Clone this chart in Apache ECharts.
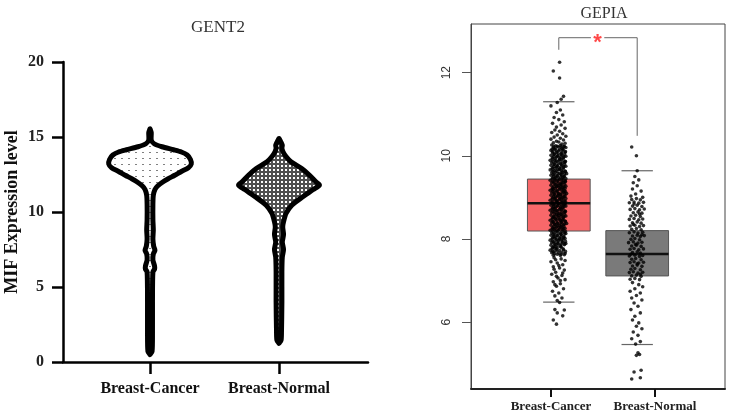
<!DOCTYPE html>
<html>
<head>
<meta charset="utf-8">
<script src="https://cdn.jsdelivr.net/npm/echarts@6/dist/echarts.min.js"></script>
<style>html,body{margin:0;padding:0;background:#fff;}#chart{width:731px;height:416px;}</style>
</head>
<body>
<div id="chart"></div>
<script>
// ---------- DATA ----------
const categories = ['Breast-Cancer', 'Breast-Normal'];
const leftTitle = 'GENT2';
const rightTitle = 'GEPIA';
const leftYName = 'MIF Expression level';
const rightYTicks = [6, 8, 10, 12];

// violin outlines: [expression value, relative density (half width)]
const cancerDensity = [
  [15.55,0],[15.3,0.03],[14.8,0.03],[14.55,0.1],[14.35,0.29],[14.15,0.57],[14.0,0.76],[13.8,0.9],
  [13.5,0.98],[13.2,1.0],[12.95,0.93],[12.7,0.76],[12.45,0.6],[12.2,0.43],[12.0,0.31],[11.75,0.19],
  [11.5,0.12],[11.1,0.08],[10.5,0.07],[9.5,0.07],[8.8,0.08],[8.2,0.07],[7.7,0.09],[7.45,0.12],
  [7.2,0.08],[6.8,0.07],[6.4,0.11],[6.2,0.11],[6.0,0.07],[4.0,0.06],[2.0,0.06],[0.7,0.05],[0.5,0]
];
const normalDensity = [
  [14.9,0],[14.7,0.04],[14.45,0.08],[14.25,0.07],[14.0,0.1],[13.7,0.17],[13.35,0.29],[12.9,0.55],
  [12.45,0.74],[12.0,0.9],[11.8,0.98],[11.5,0.83],[11.0,0.57],[10.45,0.31],[9.9,0.17],[9.35,0.11],
  [9.0,0.09],[8.5,0.11],[8.0,0.08],[7.5,0.11],[7.0,0.08],[6.0,0.07],[4.0,0.07],[2.0,0.06],[1.45,0.05],[1.25,0]
];

// box statistics: [position, lower whisker, Q1, median, Q3, upper whisker]
const cancerBox = [1, 6.48, 8.19, 8.86, 9.44, 11.30];
const normalBox = [2, 5.46, 7.11, 7.64, 8.20, 9.64];

// jittered samples: [position, expression]
const cancerPoints = [
[1.01,12.25],[0.93,12.04],[1.01,11.87],[1.06,11.43],[1.03,11.36],[0.98,11.28],[0.9,11.2],[1.02,11.1],[0.97,11.04],[1.05,10.98],[0.94,10.92],[1.0,10.87],[1.07,10.82],[0.92,10.78],[1.03,10.74],[0.97,10.69],[1.08,10.66],[0.95,10.62],[1.01,10.59],[0.91,10.56],[1.05,10.53],[0.98,10.5],[1.09,10.47],[0.94,10.45],[1.02,10.42],[0.9,10.4],[1.06,10.38],[0.97,10.35],[1.0,10.33],[0.93,10.31],[1.08,10.3],[1.04,10.28],
[0.91,10.26],[0.96,10.24],[1.02,10.25],[1.07,10.23],
[0.93,10.19],[0.99,10.21],[1.04,10.18],[1.09,10.2],
[0.9,10.13],[0.95,10.15],[1.0,10.12],[1.05,10.14],
[0.92,10.07],[0.97,10.08],[1.03,10.06],[1.08,10.09],
[0.9,10.01],[0.94,10.03],[0.99,10.0],[1.04,10.02],[1.09,9.99],
[0.92,9.95],[0.97,9.97],[1.01,9.94],[1.06,9.96],
[0.89,9.89],[0.95,9.9],[1.0,9.88],[1.03,9.91],[1.08,9.87],
[0.91,9.83],[0.96,9.85],[1.02,9.82],[1.07,9.84],
[0.9,9.77],[0.94,9.79],[0.98,9.76],[1.04,9.78],[1.09,9.75],
[0.92,9.71],[0.97,9.73],[1.01,9.7],[1.06,9.72],
[0.89,9.66],[0.94,9.64],[0.99,9.67],[1.03,9.65],[1.08,9.63],
[0.91,9.59],[0.96,9.61],[1.01,9.58],[1.05,9.6],[1.1,9.57],
[0.9,9.53],[0.93,9.55],[0.98,9.52],[1.03,9.54],[1.07,9.51],
[0.92,9.47],[0.96,9.49],[1.0,9.46],[1.05,9.48],[1.09,9.45],
[0.89,9.41],[0.95,9.43],[0.99,9.4],[1.04,9.42],[1.08,9.39],
[0.91,9.35],[0.94,9.37],[1.02,9.34],[1.06,9.36],
[0.9,9.29],[0.96,9.31],[1.0,9.28],[1.03,9.3],[1.09,9.27],
[0.92,9.23],[0.97,9.25],[1.01,9.22],[1.05,9.24],[1.08,9.21],
[0.89,9.17],[0.93,9.19],[0.98,9.16],[1.04,9.18],[1.07,9.15],
[0.91,9.11],[0.95,9.13],[1.0,9.1],[1.06,9.12],[1.1,9.09],
[0.9,9.05],[0.94,9.07],[0.99,9.04],[1.02,9.06],[1.08,9.03],
[0.92,8.99],[0.96,9.01],[1.01,8.98],[1.05,9.0],[1.09,8.97],
[0.89,8.93],[0.95,8.95],[0.98,8.92],[1.03,8.94],[1.07,8.91],
[0.91,8.87],[0.97,8.89],[1.0,8.86],[1.04,8.88],[1.08,8.85],
[0.9,8.81],[0.93,8.83],[0.99,8.8],[1.06,8.82],[1.09,8.79],
[0.92,8.75],[0.96,8.77],[1.02,8.74],[1.05,8.76],
[0.89,8.69],[0.94,8.71],[0.98,8.68],[1.03,8.7],[1.08,8.67],
[0.91,8.63],[0.95,8.65],[1.01,8.62],[1.07,8.64],
[0.9,8.57],[0.97,8.59],[1.0,8.56],[1.04,8.58],[1.09,8.55],
[0.92,8.51],[0.94,8.53],[0.99,8.5],[1.06,8.52],
[0.89,8.45],[0.96,8.47],[1.02,8.44],[1.05,8.46],[1.08,8.43],
[0.91,8.39],[0.93,8.41],[0.98,8.38],[1.03,8.4],[1.1,8.37],
[0.9,8.33],[0.95,8.35],[1.01,8.32],[1.06,8.34],
[0.92,8.27],[0.97,8.29],[1.0,8.26],[1.04,8.28],[1.08,8.25],
[0.89,8.21],[0.94,8.23],[0.99,8.2],[1.05,8.22],
[0.91,8.15],[0.96,8.17],[1.02,8.14],[1.07,8.16],[1.09,8.13],
[0.9,8.09],[0.93,8.11],[0.98,8.08],[1.03,8.1],
[0.92,8.03],[0.95,8.05],[1.01,8.02],[1.06,8.04],[1.08,8.01],
[0.89,7.97],[0.97,7.99],[1.0,7.96],[1.04,7.98],
[0.91,7.91],[0.94,7.93],[0.99,7.9],[1.05,7.92],[1.09,7.89],
[0.9,7.85],[0.96,7.87],[1.02,7.84],[1.07,7.86],
[0.92,7.79],[0.95,7.81],[0.98,7.78],[1.03,7.8],
[0.89,7.73],[0.97,7.75],[1.01,7.72],[1.06,7.74],
[0.91,7.67],[0.94,7.69],[1.0,7.66],[1.04,7.68],[1.08,7.65],
[0.93,7.61],[0.98,7.63],[1.02,7.6],[1.07,7.62],
[0.935,10.22],[0.98,10.23],[1.025,10.21],[1.065,10.22],
[0.915,10.16],[0.955,10.17],[1.01,10.15],[1.055,10.16],
[0.925,10.1],[0.975,10.11],[1.04,10.09],[1.085,10.1],
[0.945,10.04],[0.99,10.05],[1.03,10.03],[1.075,10.04],
[0.935,9.98],[0.98,9.99],[1.025,9.97],[1.065,9.98],
[0.915,9.92],[0.955,9.93],[1.01,9.91],[1.055,9.92],
[0.925,9.86],[0.975,9.87],[1.04,9.85],[1.085,9.86],
[0.945,9.8],[0.99,9.81],[1.03,9.79],[1.075,9.8],
[0.935,9.74],[0.98,9.75],[1.025,9.73],[1.065,9.74],
[0.915,9.68],[0.955,9.69],[1.01,9.67],[1.055,9.68],
[0.925,9.62],[0.975,9.63],[1.04,9.61],[1.085,9.62],
[0.945,9.56],[0.99,9.57],[1.03,9.55],[1.075,9.56],
[0.935,9.5],[0.98,9.51],[1.025,9.49],[1.065,9.5],
[0.915,9.44],[0.955,9.45],[1.01,9.43],[1.055,9.44],
[0.925,9.38],[0.975,9.39],[1.04,9.37],[1.085,9.38],
[0.945,9.32],[0.99,9.33],[1.03,9.31],[1.075,9.32],
[0.935,9.26],[0.98,9.27],[1.025,9.25],[1.065,9.26],
[0.915,9.2],[0.955,9.21],[1.01,9.19],[1.055,9.2],
[0.925,9.14],[0.975,9.15],[1.04,9.13],[1.085,9.14],
[0.945,9.08],[0.99,9.09],[1.03,9.07],[1.075,9.08],
[0.935,9.02],[0.98,9.03],[1.025,9.01],[1.065,9.02],
[0.915,8.96],[0.955,8.97],[1.01,8.95],[1.055,8.96],
[0.925,8.9],[0.975,8.91],[1.04,8.89],[1.085,8.9],
[0.945,8.84],[0.99,8.85],[1.03,8.83],[1.075,8.84],
[0.935,8.78],[0.98,8.79],[1.025,8.77],[1.065,8.78],
[0.915,8.72],[0.955,8.73],[1.01,8.71],[1.055,8.72],
[0.925,8.66],[0.975,8.67],[1.04,8.65],[1.085,8.66],
[0.945,8.6],[0.99,8.61],[1.03,8.59],[1.075,8.6],
[0.935,8.54],[0.98,8.55],[1.025,8.53],[1.065,8.54],
[0.915,8.48],[0.955,8.49],[1.01,8.47],[1.055,8.48],
[0.925,8.42],[0.975,8.43],[1.04,8.41],[1.085,8.42],
[0.945,8.36],[0.99,8.37],[1.03,8.35],[1.075,8.36],
[0.935,8.3],[0.98,8.31],[1.025,8.29],[1.065,8.3],
[0.915,8.24],[0.955,8.25],[1.01,8.23],[1.055,8.24],
[0.925,8.18],[0.975,8.19],[1.04,8.17],[1.085,8.18],
[0.945,8.12],[0.99,8.13],[1.03,8.11],[1.075,8.12],
[0.935,8.06],[0.98,8.07],[1.025,8.05],[1.065,8.06],
[0.915,8.0],[0.955,8.01],[1.01,7.99],[1.055,8.0],
[0.925,7.94],[0.975,7.95],[1.04,7.93],[1.085,7.94],
[0.945,7.88],[0.99,7.89],[1.03,7.87],[1.075,7.88],
[0.935,7.82],[0.98,7.83],[1.025,7.81],
[0.915,7.76],[0.955,7.77],[1.055,7.76],
[0.925,7.7],[0.975,7.71],[1.085,7.7],
[0.945,7.64],[1.03,7.63],
[0.94,7.55],[1.03,7.52],[1.08,7.48],[0.9,7.45],[0.98,7.42],[1.05,7.38],[0.93,7.33],[1.01,7.3],[1.07,7.25],[0.96,7.2],[0.91,7.15],[1.04,7.12],[0.99,7.06],[1.08,7.02],[0.93,6.97],[1.02,6.92],[0.97,6.86],[1.06,6.8],[0.92,6.74],[1.0,6.7],[0.95,6.63],[1.04,6.58],[0.98,6.52],[1.01,6.47],
[0.96,7.5],[1.0,7.36],[0.94,7.27],[1.05,7.18],[0.97,7.1],[1.02,7.0],[0.95,6.9],
[0.95,6.3],[1.07,6.29],[0.98,6.22],[1.05,6.15],[0.93,6.05],[0.97,5.95]
];
const normalPoints = [
[1.93,10.21],[1.99,10.0],[2.0,9.64],[1.97,9.5],[2.02,9.42],[1.95,9.35],[2.0,9.28],[1.94,9.2],[2.05,9.15],[1.98,9.08],[1.92,9.03],[2.07,9.0],
[1.93,8.95],[1.99,8.97],[2.04,8.94],
[1.9,8.87],[1.96,8.89],[2.02,8.86],[2.08,8.88],
[1.94,8.79],[2.0,8.81],[2.06,8.78],
[1.91,8.71],[1.97,8.73],[2.03,8.7],[2.09,8.72],
[1.95,8.63],[2.01,8.65],[2.06,8.62],
[1.92,8.55],[1.98,8.57],[2.04,8.54],
[1.9,8.47],[1.96,8.49],[2.02,8.46],[2.07,8.48],
[1.94,8.39],[2.0,8.41],[2.05,8.38],
[1.91,8.31],[1.97,8.33],[2.03,8.3],[2.08,8.32],
[1.93,8.23],[1.99,8.25],[2.05,8.22],
[1.9,8.15],[1.96,8.17],[2.01,8.14],[2.07,8.16],
[1.94,8.07],[2.0,8.09],[2.04,8.06],[2.09,8.08],
[1.92,7.99],[1.97,8.01],[2.03,7.98],
[1.89,7.91],[1.95,7.93],[2.01,7.9],[2.06,7.92],
[1.93,7.83],[1.99,7.85],[2.05,7.82],
[1.91,7.75],[1.96,7.77],[2.02,7.74],[2.08,7.76],
[1.94,7.67],[2.0,7.69],[2.04,7.66],
[1.9,7.59],[1.97,7.61],[2.03,7.58],[2.07,7.6],
[1.93,7.51],[1.98,7.53],[2.05,7.5],
[1.91,7.43],[1.96,7.45],[2.02,7.42],[2.08,7.44],
[1.94,7.35],[2.0,7.37],[2.06,7.34],
[1.92,7.27],[1.97,7.29],[2.04,7.26],
[1.9,7.19],[1.95,7.21],[2.01,7.18],[2.07,7.2],
[1.93,7.11],[1.99,7.13],[2.05,7.1],
[1.91,7.03],[1.97,7.05],[2.03,7.02],
[1.96,8.84],[2.03,8.6],[1.95,8.35],[2.06,8.1],[1.98,7.87],[1.92,7.63],[2.0,7.4],[2.04,7.15],
[1.94,6.95],[2.02,6.9],[2.07,6.85],[1.97,6.8],[1.91,6.74],[2.04,6.7],[1.99,6.64],[1.93,6.58],[2.06,6.53],[1.96,6.46],[2.01,6.38],[1.92,6.3],[2.04,6.22],[1.97,6.14],[1.94,6.05],[2.02,5.98],[1.99,5.9],[2.06,5.84],[1.95,5.76],[2.01,5.68],[1.93,5.6],[2.04,5.53],[1.98,5.47],
[2.01,5.26],[1.99,5.2],[2.03,5.22],[2.05,4.84],[1.96,4.8],[1.93,4.63],[2.04,4.66]
];

// significance bracket: [position, expression]
const bracketLeft = [[1, 12.55], [1, 12.84], [1.41, 12.84]];
const bracketRight = [[1.58, 12.84], [2, 12.84], [2, 10.48]];
const starMark = [[1.495, 12.84]];
const starText = '*';

// ---------- STYLE HELPERS ----------
function makePattern(w, h, bg, draw) {
  const c = document.createElement('canvas');
  c.width = w; c.height = h;
  const g = c.getContext('2d');
  g.fillStyle = bg; g.fillRect(0, 0, w, h);
  draw(g);
  return { image: c, repeat: 'repeat' };
}
const cancerFill = makePattern(7, 6, '#ffffff', g => { g.fillStyle = '#808080'; g.fillRect(2, 2, 2, 1); });
const normalFill = makePattern(4, 4, '#505050', g => { g.fillStyle = '#ffffff'; g.fillRect(1, 1, 2, 2); });
const violinFills = [cancerFill, normalFill];
const violinProfiles = [cancerDensity, normalDensity];
const VIOLIN_SCALE = 0.32;
const BOX_HALF = 0.4;
const CAP_HALF = 0.2;

const serif = 'Liberation Serif';
const sans = 'Liberation Sans';

function violinItem(params, api) {
  const idx = api.value(0);
  const prof = violinProfiles[idx];
  const cx = api.coord([idx, 0])[0];
  const band = api.size([1, 0])[0];
  const k = band * VIOLIN_SCALE;
  const left = [], right = [];
  prof.forEach(p => {
    const y = api.coord([idx, p[0]])[1];
    left.push([cx - p[1] * k, y]);
    right.push([cx + p[1] * k, y]);
  });
  const pts = left.concat(right.reverse());
  return {
    type: 'polygon',
    shape: { points: pts, smooth: 0.25 },
    style: { fill: violinFills[idx], stroke: '#000', lineWidth: 5, lineJoin: 'round' }
  };
}

const boxFills = ['#f8686a', '#7a7a7a'];
function boxItem(params, api) {
  const x = api.value(0);
  const lo = api.value(1), q1 = api.value(2), med = api.value(3), q3 = api.value(4), hi = api.value(5);
  const tl = api.coord([x - BOX_HALF, q3]);
  const br = api.coord([x + BOX_HALF, q1]);
  const mL = api.coord([x - BOX_HALF, med]), mR = api.coord([x + BOX_HALF, med]);
  const hL = api.coord([x - CAP_HALF, hi]), hR = api.coord([x + CAP_HALF, hi]);
  const lL = api.coord([x - CAP_HALF, lo]), lR = api.coord([x + CAP_HALF, lo]);
  return {
    type: 'group',
    children: [
      { type: 'rect', shape: { x: tl[0], y: tl[1], width: br[0] - tl[0], height: br[1] - tl[1] },
        style: { fill: boxFills[params.dataIndex], stroke: '#555', lineWidth: 1 } },
      { type: 'line', shape: { x1: mL[0], y1: mL[1], x2: mR[0], y2: mR[1] }, style: { stroke: '#111', lineWidth: 2.5 } },
      { type: 'line', shape: { x1: hL[0], y1: hL[1], x2: hR[0], y2: hR[1] }, style: { stroke: '#666', lineWidth: 1.2 } },
      { type: 'line', shape: { x1: lL[0], y1: lL[1], x2: lR[0], y2: lR[1] }, style: { stroke: '#666', lineWidth: 1.2 } }
    ]
  };
}

const chart = echarts.init(document.getElementById('chart'), null, { renderer: 'canvas' });
chart.setOption({
  animation: false,
  backgroundColor: '#ffffff',
  title: [
    { text: leftTitle, left: 213, top: 14, textAlign: 'center',
      textStyle: { fontFamily: serif, fontSize: 17, fontWeight: 'normal', color: '#333' } },
    { text: rightTitle, left: 599, top: 1, textAlign: 'center',
      textStyle: { fontFamily: serif, fontSize: 16, fontWeight: 'normal', color: '#333' } }
  ],
  grid: [
    { left: 63, top: 62, width: 305, height: 300 },
    { left: 85.5, top: 62, width: 258, height: 300 },
    { left: 471, top: 24, width: 254, height: 365, show: true, borderColor: '#444', borderWidth: 1 },
    { left: 499, top: 24, width: 208, height: 365 }
  ],
  xAxis: [
    { gridIndex: 0, type: 'value', min: 0, max: 1, axisLine: { show: true, onZero: false, lineStyle: { color: '#000', width: 2.5 } },
      axisTick: { show: false }, axisLabel: { show: false }, splitLine: { show: false } },
    { gridIndex: 1, type: 'category', data: categories, axisLine: { show: false },
      axisTick: { show: true, alignWithLabel: true, length: 12, lineStyle: { color: '#000', width: 2.5 } },
      axisLabel: { interval: 0, margin: 19, fontFamily: serif, fontWeight: 'bold', fontSize: 16, color: '#111' } },
    { gridIndex: 2, type: 'value', min: -0.12, max: 3.12, axisLine: { show: true, onZero: false, lineStyle: { color: '#222', width: 2 } },
      axisTick: { show: false }, axisLabel: { show: false }, splitLine: { show: false } },
    { gridIndex: 3, type: 'category', data: categories, axisLine: { show: false },
      axisTick: { show: true, alignWithLabel: true, length: 8, lineStyle: { color: '#111', width: 2 } },
      axisLabel: { interval: 0, margin: 11, fontFamily: serif, fontWeight: 'bold', fontSize: 13, color: '#222' } }
  ],
  yAxis: [
    { gridIndex: 0, type: 'value', min: 0, max: 20, interval: 5,
      name: leftYName, nameLocation: 'middle', nameGap: 42, nameMoveOverlap: false,
      nameTextStyle: { fontFamily: serif, fontWeight: 'bold', fontSize: 18, color: '#111' },
      axisLine: { show: true, onZero: false, lineStyle: { color: '#000', width: 2.5 } },
      axisTick: { show: true, length: 11, lineStyle: { color: '#000', width: 2.5 } },
      axisLabel: { margin: 19, fontFamily: serif, fontWeight: 'bold', fontSize: 16, color: '#222' },
      splitLine: { show: false } },
    { gridIndex: 1, type: 'value', min: 0, max: 20, show: false },
    { gridIndex: 2, type: 'value', min: 4.39, max: 13.17,
      axisLine: { show: true, onZero: false, lineStyle: { color: '#444', width: 1 } },
      axisTick: { show: true, length: 9, customValues: rightYTicks, lineStyle: { color: '#555', width: 1 } },
      axisLabel: { rotate: 90, margin: 18, customValues: rightYTicks, fontFamily: sans, fontSize: 12, color: '#333' },
      splitLine: { show: false } },
    { gridIndex: 3, type: 'value', min: 4.39, max: 13.17, show: false }
  ],
  series: [
    { type: 'custom', xAxisIndex: 1, yAxisIndex: 1, renderItem: violinItem,
      encode: { x: 0, y: 1 }, data: [[0, cancerDensity[0][0]], [1, normalDensity[0][0]]], z: 3 },
    { type: 'custom', xAxisIndex: 2, yAxisIndex: 2, renderItem: boxItem,
      encode: { x: 0, y: [1, 2, 3, 4, 5] }, data: [cancerBox, normalBox], z: 2 },
    { type: 'scatter', xAxisIndex: 2, yAxisIndex: 2, data: cancerPoints, symbolSize: 3.6,
      itemStyle: { color: '#000' }, z: 4, silent: true },
    { type: 'scatter', xAxisIndex: 2, yAxisIndex: 2, data: normalPoints, symbolSize: 3.6,
      itemStyle: { color: '#000' }, z: 4, silent: true },
    { type: 'line', xAxisIndex: 2, yAxisIndex: 2, data: bracketLeft, symbol: 'none',
      lineStyle: { color: '#666', width: 1 }, z: 5 },
    { type: 'line', xAxisIndex: 2, yAxisIndex: 2, data: bracketRight, symbol: 'none',
      lineStyle: { color: '#666', width: 1 }, z: 5 },
    { type: 'scatter', xAxisIndex: 2, yAxisIndex: 2, data: starMark, symbolSize: 0, z: 6,
      label: { show: true, position: 'inside', formatter: starText, offset: [0, 5],
        fontFamily: sans, fontWeight: 'bold', fontSize: 22, color: '#ff1a1a' } }
  ]
});
</script>
</body>
</html>
